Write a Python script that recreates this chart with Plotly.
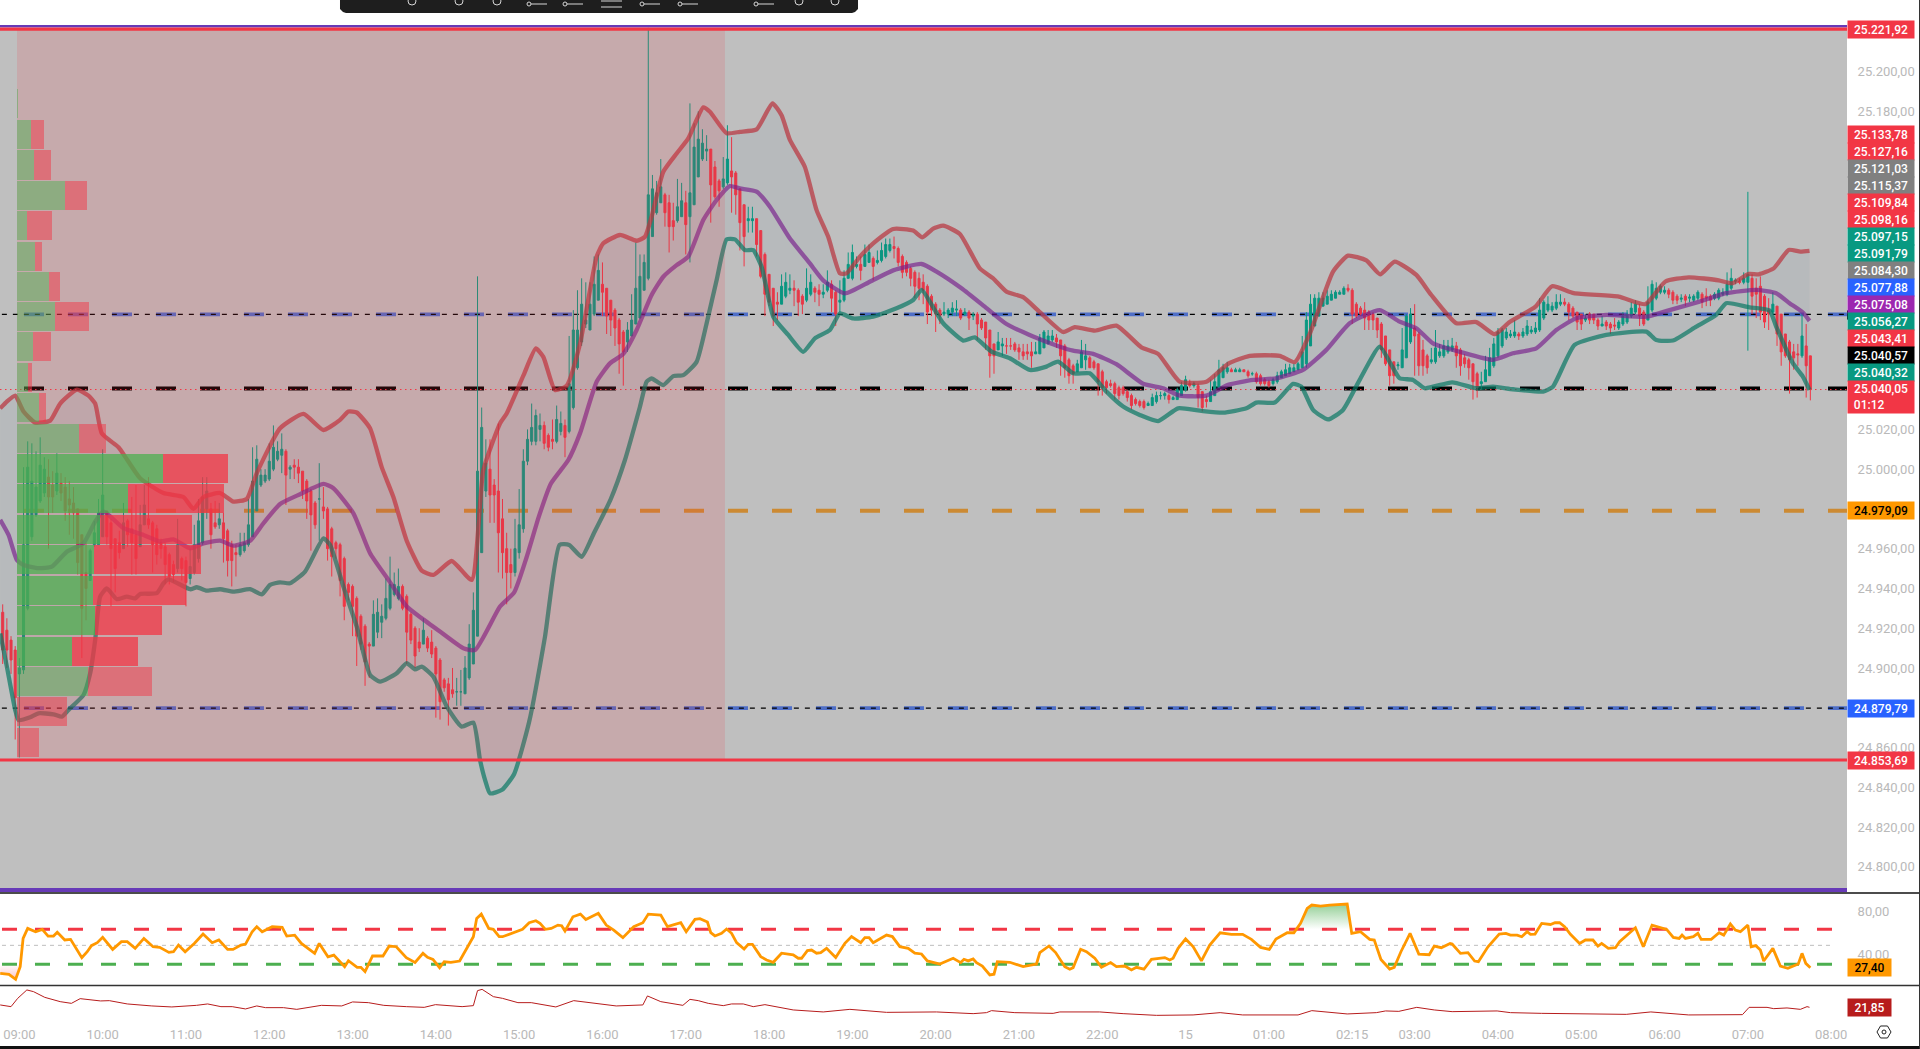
import plotly.graph_objects as go

opens = [
24928,24919,24914,24909,24897,24899,24930,24966,24977,24984,
24988,24996,24992,24989,24993,24991,24985,24983,24980,24967,
24948,24944,24962,24962,24966,24979,24973,24965,24963,24960,
24974,24970,24967,24961,24972,24975,24973,24970,24963,24961,
24957,24952,24950,24955,24954,24945,24948,24955,24963,24980,
24980,24973,24972,24973,24969,24962,24958,24957,24959,24962,
24966,24979,24992,24994,24995,25000,25005,25007,25009,25000,
25002,25001,24999,24994,24989,24983,24985,24981,24980,24970,
24963,24962,24955,24942,24941,24935,24926,24921,24912,24911,
24918,24923,24925,24930,24937,24935,24941,24936,24927,24920,
24913,24912,24915,24913,24910,24904,24894,24892,24889,24888,
24888,24887,24895,24902,24916,24958,24989,25000,24992,24989,
24975,24960,24952,24948,24958,24970,25004,25014,25014,25020,
25022,25017,25015,25014,25019,25022,25019,25031,25051,25064,
25073,25070,25078,25085,25093,25091,25085,25080,25075,25069,
25064,25067,25073,25076,25090,25096,25117,25129,25134,25138,
25134,25125,25125,25127,25134,25127,25133,25147,25156,25160,
25161,25152,25145,25142,25144,25150,25149,25141,25133,25125,
25125,25126,25120,25108,25098,25091,25084,25083,25087,25090,
25091,25090,25087,25085,25088,25091,25090,25088,25090,25093,
25089,25084,25085,25096,25096,25102,25103,25102,25104,25106,
25104,25105,25107,25110,25112,25111,25107,25104,25101,25099,
25096,25094,25092,25087,25083,25080,25078,25078,25079,25080,
25080,25078,25079,25077,25078,25075,25074,25070,25063,25060,
25062,25062,25062,25063,25061,25059,25059,25059,25058,25058,
25061,25063,25065,25066,25065,25062,25055,25052,25049,25051,
25055,25056,25054,25053,25049,25044,25043,25043,25041,25041,
25039,25037,25035,25034,25034,25032,25032,25034,25037,25037,
25037,25035,25035,25037,25040,25043,25042,25042,25039,25035,
25034,25037,25041,25046,25049,25050,25049,25049,25050,25049,
25048,25048,25047,25045,25044,25043,25044,25046,25047,25048,
25049,25050,25051,25053,25062,25072,25077,25082,25083,25085,
25086,25088,25088,25091,25090,25083,25081,25080,25079,25078,
25076,25073,25067,25060,25054,25052,25051,25056,25064,25071,
25068,25060,25057,25054,25054,25057,25057,25059,25060,25062,
25060,25056,25055,25053,25048,25043,25044,25047,25052,25057,
25062,25066,25067,25067,25068,25067,25068,25069,25069,25070,
25076,25080,25080,25081,25083,25084,25083,25081,25079,25078,
25075,25078,25078,25075,25072,25074,25073,25072.5,25071,25073,
25074,25077,25079,25081,25079,25075,25080,25086,25089,25089,
25090,25089,25087,25085.5,25087,25086,25085,25086,25088,25087,
25087,25086,25086,25088,25088,25091,25094.5,25094.5,25094,25094,
25096,25091,25092,25087,25080,25079,25082,25078,25068,25064,
25059,25058,25057,25062,25057]

closes = [
24909,24909,24904,24885,24900,24962,25001,24994,24991,25002,
25000,24986,24986,24998,24988,24979,24982,24978,24953,24930,
24940,24959,24968,24978,24987,24966,24960,24950,24958,24973,
24967,24963,24955,24972,24982,24972,24962,24957,24960,24952,
24946,24947,24962,24950,24943,24951,24962,24974,24986,24989,
24967,24971,24975,24965,24954,24954,24957,24962,24963,24972,
24994,25005,24997,24997,25004,25011,25009,25010,24997,25001,
25001,24998,24989,24984,24977,24972,24985,24979,24960,24956,
24960,24944,24931,24938,24931,24916,24912,24903,24911,24927,
24928,24926,24935,24942,24942,24941,24930,24918,24914,24906,
24910,24919,24910,24907,24897,24883,24890,24884,24887,24888,
24888,24900,24912,24929,24999,25021,25003,24987,24987,24968,
24958,24948,24948,24960,24972,25004,25015,25021,25027,25022,
25013,25011,25014,25025,25023,25016,25043,25070,25070,25083,
25075,25083,25093,25100,25089,25077,25075,25071,25063,25059,
25070,25075,25091,25097,25104,25138,25141,25139,25142,25129,
25122,25122,25132,25135,25123,25139,25162,25166,25164,25161,
25143,25137,25140,25146,25156,25147,25138,25124,25117,25126,
25126,25113,25097,25088,25084,25077,25083,25092,25094,25091,
25090,25084,25083,25091,25094,25089,25088,25089,25094,25086,
25078,25085,25096,25103,25109,25103,25100,25108,25109,25102,
25105,25110,25113,25113,25111,25104,25099,25099,25096,25092,
25091,25090,25079,25080,25078,25077,25079,25080,25081,25080.5,
25076,25079,25076,25077.5,25073,25071,25066,25057,25057,25064,
25063,25062,25062,25060,25059,25057,25058,25057,25059,25066,
25069,25067,25067,25064,25057,25051,25047,25048,25053,25059,
25057,25051,25051,25044,25041,25041,25042,25038,25037,25038,
25036,25032,25033,25032,25031,25033,25036,25037,25037,25038,
25035,25036,25040,25042,25045,25042,25043,25036,25031,25034,
25039,25044,25050,25051,25051,25049,25050,25050,25049,25047,
25048,25044,25043,25043,25042,25045,25047,25049,25050,25051,
25051,25053,25059,25075,25083,25086,25086,25086,25087,25088,
25089,25089,25091,25090,25078,25077,25078,25076,25075,25075,
25070,25060,25053,25047,25047,25052.5,25060,25077,25078,25067,
25052,25052,25051,25055,25061,25059,25062,25062,25062,25057,
25052,25053,25051,25044,25041,25044,25050,25056,25063,25069,
25070,25069,25068,25069,25067,25069,25072,25070,25071,25080,
25084,25083,25082,25084,25084,25083,25079,25077,25074,25073,
25076,25075,25075,25072,25073,25072,25071,25072,25074,25077,
25078,25081,25083,25077,25073,25084,25093,25091,25092,25090,
25088,25085,25085,25086,25085,25086.5,25087,25089,25084,25086,
25085,25088,25090,25089,25093,25096,25095,25094,25096,25098,
25087,25088,25079,25074,25078,25083,25068,25059,25057,25055,
25056,25057.5,25067,25052,25040]

highs = [
24932,24925,24916,24911,24905,25001,25014,25013,25009,25016,
25006,25005,24999,25008,24998,24996,24994,24991,24980,24967,
24963,24960,24974,24985,25010,24979,24975,24965,24969,24983,
24975,24986,24992,24982,24992,24996,24974,24972,24965,24963,
24958,24954,24975,24956,24956,24960,24972,24985,24996,24996,
24983,24984,24983,24978,24970,24964,24962,24968,24968,24985,
25011,25012,25000,25000,25013,25022,25014,25018,25010,25002,
25005,25005,24999,24995,24990,24984,25003,24991,24981,24971,
24964,24963,24956,24943,24942,24936,24927,24922,24913,24934,
24935,24932,24945,24956,24948,24950,24942,24937,24928,24921,
24920,24925,24916,24919,24911,24905,24895,24895,24900,24895,
24899,24906,24922,24938,25097,25031,25015,25015,24995,25023,
24985,24968,24960,24975,24990,25010,25020,25033,25030,25028,
25024,25018,25025,25032,25029,25025,25067,25080,25090,25096,
25094,25094,25107,25108,25104,25091,25085,25081,25076,25070,
25074,25088,25114,25108,25108,25222,25148,25145,25156,25139,
25138,25134,25146,25144,25140,25184,25174,25180,25171,25168,
25161,25155,25146,25157,25173,25167,25150,25141,25133,25132,
25132,25126,25120,25109,25098,25091,25089,25098,25099,25098,
25095,25091,25088,25101,25098,25092,25093,25093,25100,25095,
25090,25095,25100,25109,25113,25107,25107,25113,25113,25107,
25110,25114,25116,25116,25117,25112,25108,25105,25102,25100,
25099,25098,25093,25088,25084,25081,25084,25081,25084,25085,
25081,25081,25080,25079,25079,25076,25074,25070,25063,25069,
25066,25066,25066,25064,25063,25063,25063,25064,25064,25068,
25070,25070,25070,25068,25065,25063,25056,25053,25055,25065,
25063,25057,25055,25053,25050,25045,25045,25044,25042,25042,
25040,25038,25036,25035,25035,25034,25038,25039,25039,25039,
25038,25037,25041,25044,25047,25045,25044,25043,25039,25037,
25045,25048,25055,25053,25054,25051,25051,25051,25050,25050,
25049,25049,25048,25046,25045,25046,25049,25050,25053,25053,
25053,25054,25067,25079,25088,25088,25089,25089,25090,25090,
25090,25090,25092,25093,25091,25084,25082,25084,25080,25079,
25076,25074,25067,25060,25054,25054,25071,25078,25081,25083,
25069,25065,25058,25061,25070,25063,25065,25065,25066,25064,
25061,25058,25056,25053,25049,25049,25057,25061,25066,25071,
25071,25071,25070,25075,25069,25071,25075,25072,25074,25086,
25085,25087,25084,25088,25088,25086,25084,25082,25079,25078,
25078,25079,25078,25076,25077,25075,25074,25076,25075,25079,
25080,25084,25085,25083,25080,25092,25095,25094,25093,25092,
25091,25090,25088,25088,25088,25088,25088,25090,25089,25091,
25088,25089,25091,25091,25099,25101,25096,25096,25099,25139.5,
25098,25096,25097,25088,25086,25089,25082,25078,25068,25065,
25063,25063,25078,25073,25057]

lows = [
24902,24900,24897,24864,24855,24897,24929,24964,24976,24983,
24986,24960,24978,24987,24984,24974,24967,24965,24947,24905,
24924,24944,24961,24962,24966,24962,24931,24938,24955,24960,
24961,24947,24947,24961,24972,24970,24948,24952,24955,24942,
24942,24943,24948,24944,24931,24942,24947,24953,24962,24975,
24960,24970,24970,24953,24946,24941,24946,24956,24958,24961,
24966,24979,24991,24993,24994,24999,25004,24998,24982,24995,
24995,24993,24985,24975,24959,24970,24964,24975,24954,24946,
24955,24936,24924,24934,24916,24901,24909,24891,24895,24911,
24915,24915,24924,24929,24936,24934,24929,24902,24912,24900,
24908,24912,24908,24905,24875,24874,24888,24871,24885,24881,
24881,24887,24894,24902,24916,24958,24986,24973,24973,24948,
24945,24932,24940,24946,24955,24968,25002,25012,25012,25014,
25010,25009,25010,25013,25017,25006,25018,25030,25050,25062,
25071,25070,25077,25085,25077,25068,25067,25062,25048,25042,
25059,25067,25073,25076,25090,25095,25117,25128,25134,25122,
25109,25115,25124,25127,25108,25104,25133,25147,25155,25155,
25124,25136,25132,25141,25143,25129,25128,25110,25102,25119,
25119,25107,25096,25077,25082,25072,25075,25083,25086,25088,
25082,25077,25078,25084,25087,25084,25082,25086,25089,25079,
25072,25079,25084,25096,25095,25101,25095,25102,25104,25095,
25103,25104,25106,25109,25106,25102,25096,25097,25092,25086,
25085,25083,25073,25077,25069,25073,25077,25076,25077,25077,
25075,25077,25070,25075,25065,25070,25060,25046,25048,25060,
25057,25058,25060,25059,25055,25055,25055,25051,25058,25058,
25061,25063,25064,25061,25047,25046,25043,25043,25049,25051,
25050,25051,25050,25037,25037,25038,25041,25035,25035,25037,
25034,25030,25032,25031,25030,25032,25032,25033,25035,25035,
25033,25035,25035,25037,25039,25041,25041,25031,25029,25031,
25034,25037,25041,25046,25048,25049,25049,25049,25049,25046,
25047,25043,25042,25042,25041,25042,25043,25046,25047,25048,
25049,25050,25051,25051,25062,25072,25077,25082,25083,25085,
25086,25088,25088,25089,25073,25076,25077,25070,25070,25070,
25066,25056,25052,25042,25043,25050,25051,25056,25063,25047,
25047,25047,25048,25053,25053,25056,25056,25058,25059,25051,
25047,25051,25045,25035,25036,25040,25044,25047,25051,25056,
25061,25065,25066,25066,25065,25066,25067,25068,25068,25069,
25075,25079,25079,25080,25082,25082,25075,25076,25070,25070,
25074,25073,25073,25070,25072,25070,25068,25070,25070,25072,
25073,25076,25078,25072,25072,25075,25079,25085,25088,25088,
25086,25083,25083,25084,25082,25084,25084,25085,25081,25082,
25082,25085,25085,25087,25087,25090,25093,25093,25093,25059.6,
25078,25076,25075,25071,25070,25078,25062,25052,25056,25038,
25050,25052,25056,25036,25034.6]

upper_i = [-0.6,1,3,5,7.8,11.4,13.8,17.8,20.6,22.2,23.8,27.8,29.8,33,38.6,43.4,45.8,48.2,52.2,55.4,58.6,61,66.6,72.2,77,81,83,85,88.2,91,93.8,97,100.6,103.4,107.8,112.6,115.4,119.4,121,125,128,129.8,132.6,135.4,138.6,142.6,144.2,148.2,152.2,154.2,155.8,158.6,161.8,164.6,168.2,169.8,173.8,177,181,184.8,187,189,192.6,195.4,198.2,201,202.6,205.8,209,213.8,218.6,220.8,223.4,225.8,229.8,234.6,237.8,241,245,249,254.6,257.4,262.2,267.4,273.4,277.4,282.6,289,294.2,299.4,306.6,310.2,313.8,319.4,323,327.4,330.7,334.2,339.4,343,349,353.8,358.2,361.8,368,372,377.2,388,394.4,399.2,404.8,412,415.2,419.2,421.6,425.2,428.8,431.6,433.8]
upper_v = [25030.6,25034,25037,25029,25023.4,25024.4,25033,25040,25037,25033,25018,25011,25005,24995.4,24988,24986,24980,24986,24988,24983.7,24985,24998,25020.6,25027.8,25019.7,25024.8,25029,25028.5,25020.6,25001,24986,24964,24949,24946.8,24953.8,24944.3,24999.6,25023,25028,25047,25060.7,25056.5,25039.8,25042,25063,25106.9,25113.6,25117.8,25114.9,25116.9,25127,25149.6,25158.8,25166.4,25182,25179.8,25169,25169.7,25170.9,25184,25178,25165.6,25152,25130.3,25116.9,25098.5,25098.5,25106.9,25113.6,25120.8,25120,25116.6,25121,25122.5,25118.3,25101,25096,25089.3,25086.5,25079,25069,25071.4,25069.7,25072.2,25061.3,25058,25044,25044,25053,25057,25057,25053.8,25068,25099.4,25107.4,25105,25098,25104.4,25097.7,25087.6,25073.4,25074,25067.9,25074,25081.8,25092,25088.5,25086.8,25083,25094.4,25096.5,25095,25093.5,25098.2,25098,25101,25110.3,25109.4,25109.8]

middle_i = [-0.6,1.4,3.4,5,8.6,11.8,15.4,19.4,22.2,24.2,29,33.8,37.8,41,45,48.2,52.2,55.4,59.4,62.6,66.6,71.4,77,79.4,84.2,88.2,92.6,97,100.6,105,110.6,113.4,119.4,122.8,125.8,128.7,131.6,135.8,138.6,142.6,145.8,149,152.2,155.8,158.6,161.8,164.6,168.2,171.4,174.6,177,181,184.2,189,193.8,197,202.2,208.2,213.8,220.6,224.2,230.2,236.2,241,247.4,253.8,257,261.8,267.4,273.8,278.6,282.6,289,294.2,300.2,305.8,312.2,317.8,323.4,330.6,335.4,339.4,343.4,350.6,357.8,362.6,368.2,373,377.8,385,394.6,400.2,407.4,413.8,421,425.8,429,432.2,433.8]
middle_v = [24974.5,24966.9,24954.3,24951.8,24950.2,24951,24958.5,24962.7,24973.6,24978.7,24970.3,24966.9,24963.6,24964.7,24960.2,24962.7,24964,24961.5,24964,24972.8,24982.5,24987.4,24992.6,24990.4,24977.8,24957.7,24944.3,24930.9,24925,24918.3,24909.9,24909,24930.9,24938,24955.8,24976,24992.7,25004.6,25018,25044,25053.2,25058,25070,25087.6,25096.8,25102.6,25106.9,25125.3,25135.4,25142.4,25141.2,25139.6,25132,25116,25103.5,25095,25088.4,25094.3,25100,25103.2,25099.4,25091,25081,25073,25066.7,25061.6,25059.6,25058,25052.8,25043,25040.7,25037,25037,25042.4,25044.9,25045.7,25049.9,25060,25073.4,25080,25074.2,25070.9,25063.3,25058.6,25055,25058.3,25060.8,25070,25075.9,25077.6,25076.7,25080,25084.3,25088.5,25090.2,25088.5,25083.5,25078.8,25074.6]

lower_i = [-0.6,1,3,3.8,6.6,8.6,12.2,14.2,15.8,19.4,21,22.2,23.4,25,27.4,29.8,31.8,33,37,38.6,39.8,45,46.6,49,52.2,55.4,59.4,62.2,64.2,66.6,69,72.6,77,78.6,81.8,85,88.2,90.6,94.6,97,99,100.6,103.4,106.6,110.2,113,114.6,115.8,117,119.9,122.8,126.4,130.2,133.7,136,139,142,146,149.4,153,154.6,155.8,158.6,161,163.4,166.6,169,171.4,173.8,175.8,178.2,180.2,182.2,185,188.6,192.2,195,198.6,201,204.2,209,214.6,218.6,220.6,223.8,225.8,230.6,233.4,237.4,241.8,246.6,250.6,253.4,257,261,265,269,273,277.4,282.2,287.4,293,298.6,301,305.4,309.8,311.8,314.6,318.2,321.8,325.8,330.6,333.4,335.4,338.6,341.4,348,353.8,357.8,362.6,369.8,372.2,377.4,385,394.6,397,401,406.6,411.4,413.8,419.4,424.2,425.8,429.8,432.2,433.8]
lower_v = [24917.4,24900.7,24878.9,24873.8,24875.2,24877.2,24876.7,24875.5,24878.9,24886.4,24897.3,24914,24935.9,24940,24934.6,24935.9,24935,24937.2,24937.6,24942.6,24944.6,24939.6,24940.6,24938.9,24939.6,24938.4,24939.6,24937,24941.8,24943.1,24942.6,24948.5,24965.2,24961.9,24940.9,24920.8,24896.5,24893.1,24897.3,24902.4,24899.3,24900.7,24895.6,24880.6,24870.5,24872.5,24853.7,24843.7,24836.9,24838.7,24846.7,24872.9,24915.7,24961.9,24961.9,24955.9,24968,24985,25004.6,25031.4,25044,25045.6,25042.3,25046.8,25047.3,25054,25073.3,25095,25115.6,25115.6,25110.2,25110.2,25101.8,25076.7,25067.5,25059,25065.8,25070,25078.3,25075.8,25076.7,25080.9,25085.1,25090.2,25080,25073.4,25064.7,25066.3,25059.1,25055.8,25049.9,25051.6,25054.1,25048.2,25048.2,25039,25031.5,25027.3,25024.2,25030.6,25029.4,25028.4,25030.6,25033.5,25033.5,25042.9,25041.5,25029.8,25025,25029.8,25044.9,25061.6,25052.4,25045.7,25044.9,25040.7,25043.7,25040.7,25041.5,25040.2,25039,25041.5,25062.5,25067.5,25069.2,25065,25064.7,25071.7,25077.6,25083.5,25081.4,25079.8,25071.7,25053.3,25046.6,25039.9]

rsi_i = [-0.6,1.5,3.1,4.2,4.9,6,7.9,9.5,10.9,12.2,13.1,14.9,16.3,17.8,19,20.3,21.3,22.7,24,26.4,28.5,29.9,31.8,33.9,36.1,37.7,39.9,41,42.2,43.8,46,48.1,50.3,51.9,54,55.3,57.2,58.3,59.9,61,62.3,64.7,67.1,68.2,70.1,71.7,74.9,76,78.1,79.5,82.1,83,85.1,86,87,88.8,91.3,92.8,94.5,96.9,99,100.9,102,103.3,104.9,106,107.6,109.7,113,113.8,114.9,116.7,117.8,119.2,120,124.8,126.4,128,129,130.3,131.7,133.3,134.2,135,136.9,138.7,140,143,144.9,146.7,148.9,151.5,153.7,155,158,159.6,161.2,162.8,164.1,166.2,167.4,169.2,170,171,172.6,173.8,175,176.2,178,179,180,182,183.4,185,187,189.8,191,191.8,193.2,194.2,195.4,196.4,197.8,200,202.2,203.8,206,207,208,209,212.2,213.6,215.4,217.4,219,220.6,222,225,228.2,230,230.8,231.8,233,233.8,235.2,237,238,238.8,241.8,245,248.2,249,251.2,252.8,255,256.2,257,258.8,260.2,262.2,263.8,266,267.4,269.4,271,272.2,274,275.8,279,280.2,281,282.2,284,285.8,287.8,289.8,292.3,295,297.7,299.8,302,304.1,305.7,308.4,310,311.6,313.2,314.3,316.4,318.6,322.8,323.9,326,328.2,329.3,330.9,333,334.1,335.7,337.9,340,342.5,343.7,345.4,347.5,348,350,351.8,353.4,354.3,356.6,359.3,360.9,362,363.6,364.7,366,366.8,367.9,369.5,371.6,372.7,373.8,375,376.4,378.6,380,381.8,383,383.9,385.5,387.2,388.2,392,393.9,396,399.5,401.1,402.5,403.2,404,405.9,407,407.8,410.2,412.1,413.2,414.8,416,417.2,419,419.8,420.9,422,422.8,425,426.8,428.6,431.1,432,432.9,434]
rsi_v = [22.1,21.2,16.5,28.4,54.9,64.3,61.2,63.4,57.1,57.1,60.6,53.4,54,44,36.8,42.4,48.1,50.9,55.9,44.6,51.8,51.8,45.6,54.9,47.1,46.5,41.8,42.4,48.7,42.4,50.2,59,50.9,53.4,44.6,44.6,48.7,49.6,61.2,65.9,61.2,65.9,65.2,57.1,58,50.2,40.9,50.2,37.7,39.3,28.4,34,27.8,27.8,23.7,38.4,38.4,47.7,47.1,36.8,32.4,40.9,37.1,35.2,27.4,33,32.4,33.7,56.5,73.7,77.7,64.3,63.4,56.5,56.5,63.4,69.6,71.5,69,63.4,64.3,67.4,66.8,61.8,75.2,77.7,72.7,78.4,67.4,62.7,55.6,65.9,69.6,77.7,76.8,65.9,67.4,69.6,61.2,72.8,73.4,70.3,60.3,57.2,59.7,63.7,59.7,50.9,45,49.4,49.4,37.8,34.7,32.5,41,39.4,36.3,36.3,43.4,44,41,41.6,45.6,36.9,50.3,56.6,50.9,55.6,55.6,50.9,58,56.6,47.2,45.6,41,40.3,33.8,30.9,36.3,32.2,35.3,33.8,35.6,32.2,29,20.6,21.3,33.1,32.5,28.4,30.9,41.6,47.8,41.6,28.4,26,27.5,44.7,42.5,36.3,27.8,32.2,28.4,29,25.3,27.8,26,35.3,36.9,34.7,36.3,45.6,54.4,47.2,33.8,48.7,60.2,58.7,58.7,54,46.5,44.6,54.3,60.2,60.2,69,83,86.2,85.2,86.2,87.1,59.6,61.2,54,53.4,35.2,26.2,27.8,42.4,59.6,40.2,39.6,47.7,46.2,50.2,49.6,40.9,41.5,33.7,33.1,47.1,59,59.6,58,58,56.5,61.2,58.7,59,69,68,69.6,69.6,65.9,58.7,50.2,53.4,53.4,47.7,50.2,45.6,46.2,51.8,64.9,47.1,67.4,63.4,55.9,54.9,58,54.9,56.5,59.6,54,54,60.2,58,68.4,62.7,61.2,67.4,47.1,48.1,44,33.7,45.6,29,26.8,30.9,40.9,31.5,27.4]

adx_i = [-0.6,2,3.6,5.8,7.4,10.1,13.8,16.5,18.6,23.5,25.6,29.9,35.8,40.6,46.5,49.2,52.4,55.1,58.3,61,63.1,67.4,70.6,76.5,81.4,84,87.8,91.5,96.9,101.2,103.9,110.3,113,114,115.1,117.8,120,123.7,126.9,132.8,137.1,143,147.3,153.7,154.8,158,163.3,165,167,169.4,173,175,177.8,180.2,183,189.8,197,203.4,212.2,224.2,233,236.2,237.4,243,252.2,253.8,263.4,269,277,285.8,289.8,292.3,297.7,306.2,311,314.3,322.8,329.8,332,335.2,339.5,343.7,348,358.8,362,369.5,379.1,389.8,395.7,404.8,417.7,419.3,423.6,425.2,428.4,431.6,433.2,433.8]
adx_v = [24.2,22.5,30.8,39.2,37.5,31.8,27.5,25.8,30.5,28.2,28.5,25.2,23.2,22.2,23.8,25.2,22.5,22.5,20.2,23.2,21.5,21.5,19.8,23.8,23.2,27.2,26.5,23.8,22.5,21.8,24.5,22.5,23.5,38.5,39.8,32.5,30.8,26.5,26.5,22.2,28.5,25.2,23.2,24.2,33.2,27.5,23.8,29.8,28.5,25.8,23.5,25.2,25.2,22.5,24.5,19.2,17.2,19.8,16.8,17.2,15.5,16.5,18.5,16.5,15.8,17.2,17.2,15.5,13.8,14.2,15.8,16.5,14.2,14.2,14.2,18.5,15.2,16.5,18.2,17.8,21.8,19.2,17.5,18.2,16.5,15.8,15.2,14.8,17.2,14.2,14.5,21.8,21.8,20.5,21.2,19.8,22.5,21.85]

rsi_hot_i = [311.6,313.2,314.3,316.4,318.6,322.8,323.2]
rsi_hot_v = [69,83,86.2,85.2,86.2,87.1,76]
rsi_cold_i = [-0.6,1.5,3.1,4.2]
rsi_cold_v = [22.1,21.2,16.5,28.4]

profile_prices = [25183.7,25168.3,25153,25137.7,25122.6,25107.2,25091.9,25076.8,25061.5,25046.1,25030.8,25015.4,25000.3,24985,24969.6,24954.5,24939.2,24923.8,24908.5,24893.2,24878,24862.7]
profile_up = [1,14,17,48,10,18,32,38,16,11,22,62,146,111,83,77,76,78,55,71,0,0]
profile_down = [0,13,17,22,25,7,11,34,18,4,7,27,65,96,92,107,93,67,66,64,50,22]
value_area = [0,0,0,0,0,0,0,0,0,0,0,0,1,1,1,1,1,1,1,0,0,0]

time_ticks = [4,24,44,64,84,104,124,144,164,184,204,224,244,264,284,304,324,339,359,379,399,419,439]
time_labels = ["09:00","10:00","11:00","12:00","13:00","14:00","15:00","16:00","17:00","18:00","19:00","20:00","21:00","22:00","15","01:00","02:15","03:00","04:00","05:00","06:00","07:00","08:00"]
price_ticks = [25200,25180,25020,25000,24960,24940,24920,24900,24860,24840,24820,24800]
price_tick_labels = ["25.200,00","25.180,00","25.020,00","25.000,00","24.960,00","24.940,00","24.920,00","24.900,00","24.860,00","24.840,00","24.820,00","24.800,00"]
rsi_ticks = [80,40]
rsi_tick_labels = ["80,00","40,00"]

range_high = 25221.92
range_low = 24853.69
frame_low = 24788.3
level_orange = 24979.09
level_black = 25040.57
level_last = 25040.05
levels_blue = [25077.88,24879.79]
rsi_levels = [63.4,48.4,30.6]
zone_start = 3.43
zone_end = 173.4

stack_labels = ["25.133,78","25.127,16","25.121,03","25.115,37","25.109,84","25.098,16","25.097,15","25.091,79","25.084,30","25.077,88","25.075,08","25.056,27","25.043,41","25.040,57","25.040,32"]
stack_colors = ["#F23645","#F23645","#808080","#808080","#F23645","#F23645","#089981","#089981","#808080","#2962FF","#9C27B0","#089981","#F23645","#000000","#089981"]

RED = "#F23645"; GREEN = "#089981"; GRAY = "#b9b9b9"; PURPLE = "#673AB7"
W, H = 1920, 1049
FONT = "Roboto"
X_MIN, X_MAX = -0.648, 442.8
def px(v): return v / W
def py(v): return 1 - v / H

fig = go.Figure()
fig.add_trace(go.Candlestick(x=list(range(len(closes))), open=opens, high=highs, low=lows, close=closes,
    increasing=dict(line=dict(color=GREEN, width=1), fillcolor=GREEN),
    decreasing=dict(line=dict(color=RED, width=1), fillcolor=RED),
    hoverinfo="skip", whiskerwidth=0, xaxis="x", yaxis="y"))
fig.add_trace(go.Scatter(x=upper_i + lower_i[::-1], y=upper_v + lower_v[::-1], mode="none", fill="toself",
    fillcolor="rgba(40,90,130,0.05)", hoverinfo="skip"))
fig.add_trace(go.Scatter(x=upper_i, y=upper_v, mode="lines", line=dict(color="rgba(185,50,60,0.7)", width=4.3, shape="spline", smoothing=0.5), hoverinfo="skip"))
fig.add_trace(go.Scatter(x=lower_i, y=lower_v, mode="lines", line=dict(color="rgba(8,120,100,0.7)", width=4.3, shape="spline", smoothing=0.5), hoverinfo="skip"))
fig.add_trace(go.Scatter(x=middle_i, y=middle_v, mode="lines", line=dict(color="rgba(120,30,140,0.66)", width=4.3, shape="spline", smoothing=0.5), hoverinfo="skip"))
# session zone, above candles
fig.add_trace(go.Scatter(x=[zone_start, zone_end, zone_end, zone_start], y=[range_low, range_low, range_high, range_high],
    xaxis="x2", yaxis="y", mode="none", fill="toself", fillcolor="rgba(242,54,69,0.15)", hoverinfo="skip"))
# volume profile
up_cols = ["rgba(76,175,80,%s)" % (0.75 if a else 0.47) for a in value_area]
dn_cols = ["rgba(242,54,69,%s)" % (0.75 if a else 0.5) for a in value_area]
fig.add_trace(go.Bar(y=profile_prices, x=profile_up, orientation="h", width=14.6, marker=dict(color=up_cols, line_width=0), xaxis="x3", yaxis="y", hoverinfo="skip"))
fig.add_trace(go.Bar(y=profile_prices, x=profile_down, orientation="h", width=14.6, marker=dict(color=dn_cols, line_width=0), xaxis="x3", yaxis="y", hoverinfo="skip"))
# RSI
fig.add_trace(go.Scatter(x=rsi_hot_i + [rsi_hot_i[-1], rsi_hot_i[0]], y=rsi_hot_v + [rsi_levels[0], rsi_levels[0]], xaxis="x", yaxis="y2", mode="none", fill="toself",
    fillgradient=dict(type="vertical", colorscale=[[0, "rgba(76,175,80,0)"], [1, "rgba(76,175,80,0.6)"]]), hoverinfo="skip"))
fig.add_trace(go.Scatter(x=rsi_cold_i + [rsi_cold_i[-1], rsi_cold_i[0]], y=rsi_cold_v + [rsi_levels[2], rsi_levels[2]], xaxis="x", yaxis="y2", mode="none", fill="toself",
    fillgradient=dict(type="vertical", colorscale=[[0, "rgba(242,54,69,0.3)"], [1, "rgba(242,54,69,0)"]]), hoverinfo="skip"))
fig.add_trace(go.Scatter(x=rsi_i, y=rsi_v, xaxis="x", yaxis="y2", mode="lines", line=dict(color="#FF9800", width=2.8), hoverinfo="skip"))
fig.add_trace(go.Scatter(x=adx_i, y=adx_v, xaxis="x", yaxis="y3", mode="lines", line=dict(color="#B71C1C", width=1), hoverinfo="skip"))

def hline(level, color, width, dash="solid", x0=X_MIN, x1=X_MAX, yref="y", layer="below"):
    return dict(type="line", xref="x", yref=yref, x0=x0, x1=x1, y0=level, y1=level, layer=layer, line=dict(color=color, width=width, dash=dash))

DASH_START = -5.45
shapes = [dict(type="rect", xref="x", yref="y", x0=X_MIN, x1=X_MAX, y0=frame_low, y1=range_high, layer="below", fillcolor="#bfbfbf", line_width=0)]
shapes.append(hline(level_orange, "#cc8a33", 3.8, "20px,24px", DASH_START))
shapes.append(hline(level_black, "#000000", 3.8, "20px,24px", DASH_START))
for lv in levels_blue:
    shapes.append(hline(lv, "#4f6fc8", 3.8, "20px,24px", DASH_START))
    shapes.append(hline(lv, "#000000", 1.3, "5px,6px", -0.2))
shapes.append(hline(level_last, RED, 1, "1.5px,3.5px"))
shapes.append(hline(range_low, RED, 3, layer="above"))
shapes.append(hline(range_high + 0.9, PURPLE, 2.6, layer="above"))
shapes.append(hline(range_high - 0.6, RED, 3.2, layer="above"))
shapes.append(hline(frame_low, PURPLE, 4, layer="above"))
shapes.append(hline(rsi_levels[0], RED, 3, "15px,18px", -0.17, 439.2, "y2"))
shapes.append(hline(rsi_levels[1], "#bdbdbd", 1, "4px,4px", -0.17, 439.2, "y2"))
shapes.append(hline(rsi_levels[2], "#4CAF50", 3, "15px,18px", -0.17, 439.2, "y2"))

def pline(x0, y0, x1, y1, color, width):
    return dict(type="line", xref="paper", yref="paper", x0=px(x0), x1=px(x1), y0=py(y0), y1=py(y1), line=dict(color=color, width=width), layer="above")
shapes.append(pline(0, 893, W, 893, "#111111", 1.5))
shapes.append(pline(0, 985.5, W, 985.5, "#333333", 1.5))
shapes.append(pline(0, 1047.5, W, 1047.5, "#111111", 3))
shapes.append(pline(1919.5, 0, 1919.5, 1049, "#333333", 1))
# toolbar
def ppath(points, **kw):
    d = "M " + " L ".join("%.5f,%.5f" % (px(a), py(b)) for a, b in points) + " Z"
    return dict(type="path", xref="paper", yref="paper", path=d, layer="above", **kw)
shapes.append(ppath([(340, 0), (858, 0), (858, 9), (855, 12), (852, 13), (346, 13), (343, 12), (340, 9)], fillcolor="#1e1e1e", line_width=0))
for c in [536, 572, 649, 687, 763]:
    shapes.append(pline(c - 6, 4, c + 11, 4, "#d6d6d6", 1))
    shapes.append(dict(type="circle", xref="paper", yref="paper", x0=px(c - 9), x1=px(c - 5), y0=py(6), y1=py(2), fillcolor="#1e1e1e", line=dict(color="#d6d6d6", width=1), layer="above"))
shapes.append(pline(601, 1, 622, 1, "#d6d6d6", 1))
shapes.append(pline(601, 7, 622, 7, "#d6d6d6", 1))
for c in [412, 459, 497, 799, 835]:
    shapes.append(dict(type="circle", xref="paper", yref="paper", x0=px(c - 4), x1=px(c + 4), y0=py(5), y1=py(-3), line=dict(color="#d6d6d6", width=1), layer="above"))
# small arrow and settings icon
shapes.append(ppath([(1847, 310), (1853, 315), (1847, 320)], fillcolor="#000000", line_width=0))
shapes.append(ppath([(1877, 1032), (1880.5, 1026), (1887.5, 1026), (1891, 1032), (1887.5, 1038), (1880.5, 1038)], fillcolor="rgba(0,0,0,0)", line=dict(color="#222222", width=1)))
shapes.append(dict(type="circle", xref="paper", yref="paper", x0=px(1882), x1=px(1886), y0=py(1034), y1=py(1030), line=dict(color="#222222", width=1), layer="above"))

annotations = []
def tag(text, yc, bg, fg="#ffffff", w=66, h=17, xc=1881, yref="paper"):
    annotations.append(dict(text=text, xref="paper", x=px(xc), xanchor="center", yref=yref, y=yc, yanchor="middle", showarrow=False, width=w, height=h,
        bgcolor=bg, borderpad=0, align="center", font=dict(family=FONT, size=12, color=fg, weight=500)))
tag("25.221,92", py(29), RED)
for k, (t, c) in enumerate(zip(stack_labels, stack_colors)):
    tag(t, py(134.7 + 17 * k), c)
tag("25.040,05<br>01:12" + "\u00a0" * 8, py(397), RED, h=32)
tag("24.979,09", level_orange, "#FF9800", fg="#000000", yref="y")
tag("24.879,79", levels_blue[1], "#2962FF", yref="y")
tag("24.853,69", range_low, RED, yref="y")
tag("27,40", rsi_v[-1], "#FF9800", fg="#000000", w=43, xc=1869.5, yref="y2")
tag("21,85", adx_v[-1], "#B71C1C", w=43, xc=1869.5, yref="y3")

axis_font = dict(family=FONT, size=13, color=GRAY)
fig.update_layout(
    width=W, height=H, margin=dict(l=0, r=0, t=0, b=0), paper_bgcolor="#ffffff", plot_bgcolor="#ffffff",
    showlegend=False, barmode="stack", bargap=0, hovermode=False, shapes=shapes, annotations=annotations,
    font=dict(family=FONT),
    xaxis=dict(domain=[0, px(1847)], range=[X_MIN, X_MAX], anchor="y3", tickmode="array", tickvals=time_ticks, ticktext=time_labels, tickangle=0,
               ticks="outside", ticklen=5, tickcolor="#ffffff", tickfont=axis_font, showgrid=False, zeroline=False, showline=False, rangeslider=dict(visible=False), fixedrange=True),
    xaxis2=dict(domain=[0, px(1847)], range=[X_MIN, X_MAX], overlaying="x", anchor="y", visible=False, fixedrange=True),
    xaxis3=dict(domain=[0, px(1847)], range=[-17, 1830], overlaying="x", anchor="y", visible=False, fixedrange=True),
    yaxis=dict(domain=[py(892), 1], range=[24787.3, 25236], side="right", anchor="x", tickmode="array", tickvals=price_ticks, ticktext=price_tick_labels,
               ticks="outside", ticklen=7, tickcolor="#ffffff", tickfont=axis_font, showgrid=False, zeroline=False, showline=False, fixedrange=True),
    yaxis2=dict(domain=[py(985), py(893)], range=[11.2, 97.5], side="right", anchor="x", tickmode="array", tickvals=rsi_ticks, ticktext=rsi_tick_labels,
                ticks="outside", ticklen=7, tickcolor="#ffffff", tickfont=axis_font, showgrid=False, zeroline=False, showline=False, fixedrange=True),
    yaxis3=dict(domain=[py(1017), py(985)], range=[12.15, 44.15], side="right", anchor="x", showticklabels=False, ticks="", showgrid=False, zeroline=False, showline=False, fixedrange=True),
)

fig.write_html("out.html", config={"displayModeBar": False},
               post_script="document.body.style.margin='0';document.body.style.overflow='hidden';")
